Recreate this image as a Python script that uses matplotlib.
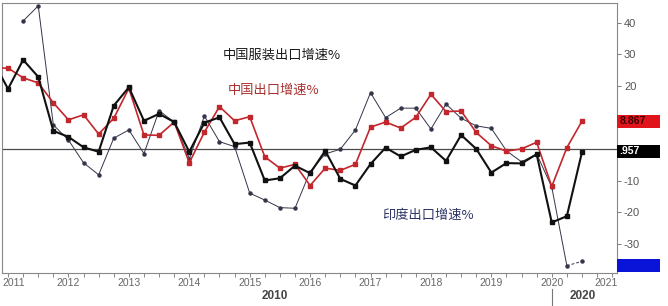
import numpy as np
import matplotlib
matplotlib.use("Agg")
import matplotlib.pyplot as plt
from matplotlib.patches import Rectangle
import matplotlib.transforms as mtransforms

plt.rcParams['font.family'] = ['Liberation Sans', 'Noto Sans CJK SC', 'DejaVu Sans']

quarters = ["2010Q4",
            "2011Q1", "2011Q2", "2011Q3", "2011Q4",
            "2012Q1", "2012Q2", "2012Q3", "2012Q4",
            "2013Q1", "2013Q2", "2013Q3", "2013Q4",
            "2014Q1", "2014Q2", "2014Q3", "2014Q4",
            "2015Q1", "2015Q2", "2015Q3", "2015Q4",
            "2016Q1", "2016Q2", "2016Q3", "2016Q4",
            "2017Q1", "2017Q2", "2017Q3", "2017Q4",
            "2018Q1", "2018Q2", "2018Q3", "2018Q4",
            "2019Q1", "2019Q2", "2019Q3", "2019Q4",
            "2020Q1", "2020Q2", "2020Q3"]

apparel = [28.0,
           19.1, 28.3, 22.9, 5.8,
           3.9, 0.6, -0.8, 13.8,
           19.6, 9.0, 11.2, 8.6,
           -0.8, 8.4, 10.1, 1.6,
           2.1, -9.9, -9.2, -5.2,
           -7.6, -0.5, -9.4, -11.5,
           -4.7, 0.5, -2.3, -0.2,
           0.6, -3.7, 4.5, 0.1,
           -7.4, -4.4, -4.5, -1.6,
           -23.2, -21.2, -0.957]

china_total = [25.7,
               25.7, 22.6, 21.0, 14.7,
               9.3, 10.9, 4.8, 9.8,
               19.3, 4.5, 4.4, 8.6,
               -4.3, 5.4, 13.5, 9.0,
               10.3, -2.4, -6.0, -4.8,
               -11.5, -6.0, -6.7, -4.8,
               7.0, 8.6, 6.7, 10.1,
               17.4, 11.9, 12.1, 5.3,
               1.1, -0.6, 0.1, 2.2,
               -11.8, 0.5, 8.867]

india = [np.nan,
         np.nan, 40.6, 45.4, 7.7,
         2.9, -4.3, -8.1, 3.5,
         6.1, -1.4, 12.2, 8.6,
         -3.0, 10.5, 2.4, 0.8,
         -13.9, -16.1, -18.5, -18.7,
         -7.1, -1.5, 0.0, 6.1,
         17.9, 10.0, 13.0, 13.0,
         6.4, 14.3, 9.8, 7.4,
         6.6, -0.5, -4.0, -1.5,
         -12.0, -36.9, -35.5]

year_ticks = [2011, 2012, 2013, 2014, 2015, 2016, 2017, 2018, 2019, 2020, 2021]
y_ticks = [40, 30, 20, 10, 0, -10, -20, -30]
y_tick_labels = ["40", "30", "20", "", "", "-10", "-20", "-30"]

label_apparel = "中国服装出口增速%"
label_china = "中国出口增速%"
label_india = "印度出口增速%"

x = np.array([int(q[:4]) + (int(q[5]) - 1) / 4.0 for q in quarters])
apparel = np.array(apparel)
china_total = np.array(china_total)
india = np.array(india)

fig = plt.figure(figsize=(6.68, 3.06), dpi=100)
ax = fig.add_axes([2 / 668, 33 / 306, 615 / 668, 270 / 306])

ax.set_xlim(2010.9, 2021.08)
ax.set_ylim(-39.2, 46.3)

ax.axhline(0, color="#4a4a4a", lw=0.9, zorder=1)

gray_col = "#34344a"
ax.plot(x[:-1], india[:-1], color=gray_col, lw=0.7, marker="o", ms=2.2, zorder=2)
ax.plot(x[-2:], india[-2:], color=gray_col, lw=0.7, ls=(0, (3, 2)), marker="o",
        ms=2.2, markevery=[1], zorder=2)
ax.plot(x, china_total, color="#c1272d", lw=1.2, marker="s", ms=3.0, zorder=3)
ax.plot(x, apparel, color="#111111", lw=1.5, marker="s", ms=2.8, zorder=4)

# axes styling
for s in ["left", "top", "right", "bottom"]:
    ax.spines[s].set_color("#888888")
    ax.spines[s].set_linewidth(0.8)
ax.yaxis.tick_right()
ax.set_yticks(y_ticks)
ax.set_yticklabels(y_tick_labels)
ax.tick_params(axis="y", length=3, width=0.7, color="#777777", labelsize=8,
               labelcolor="#555555", pad=2)

ax.set_xticks(year_ticks)
ax.set_xticklabels([""] * len(year_ticks))
ax.set_xticks(np.arange(2011, 2021.01, 0.25), minor=True)
ax.tick_params(axis="x", which="both", length=3, width=0.7, color="#888888",
               labelsize=7.5, labelcolor="#666666", pad=2)

trans = mtransforms.blended_transform_factory(ax.transData, ax.transAxes)
for yr in year_ticks:
    if yr == 2011:
        xp, ha = 2010.91, "left"
    elif yr == 2021:
        xp, ha = 2020.9, "center"
    else:
        xp, ha = yr, "center"
    ax.text(xp, -0.037, str(yr), transform=trans, ha=ha, va="center",
            fontsize=7.5, color="#666666")

# decade labels
ax.text(2015.42, -0.085, "2010", transform=trans, ha="center", va="center",
        fontsize=8.5, fontweight="bold", color="#444444")
ax.text(2020.52, -0.085, "2020", transform=trans, ha="center", va="center",
        fontsize=8.5, fontweight="bold", color="#444444")
ax.plot([2020.0, 2020.0], [-0.06, -0.12], transform=trans, color="#777777",
        lw=0.8, clip_on=False)

# series labels
ax.text(2014.55, 29.6, label_apparel, fontsize=9.5, color="#1a1a1a",
        family=["Noto Sans CJK SC", "DejaVu Sans"], ha="left", va="center")
ax.text(2014.63, 18.7, label_china, fontsize=9.5, color="#a8302e",
        family=["Noto Sans CJK SC", "DejaVu Sans"], ha="left", va="center")
ax.text(2017.2, -20.8, label_india, fontsize=9.5, color="#2e3468",
        family=["Noto Sans CJK SC", "DejaVu Sans"], ha="left", va="center")

# value boxes on right axis
btrans = mtransforms.blended_transform_factory(ax.transAxes, ax.transData)
bw = 43 / 615
bh = 13 / 3.157
boxes = [(china_total[-1], 8.8, "#e0141a", "8.867", "#3a0000"),
         (apparel[-1], -0.7, "#000000", ".957", "#ffffff"),
         (india[-2], -36.8, "#0a14d8", "", "#0a14d8")]
for val, yc, fc, txt, tc in boxes:
    ax.add_patch(Rectangle((1.0, yc - bh / 2), bw, bh, transform=btrans,
                           facecolor=fc, edgecolor="none", clip_on=False, zorder=5))
    if txt:
        ax.text(1.004, yc, txt, transform=btrans, ha="left", va="center",
                fontsize=7.5, fontweight="bold", color=tc, clip_on=False, zorder=6)

fig.savefig("out.png", dpi=100, facecolor="white")
